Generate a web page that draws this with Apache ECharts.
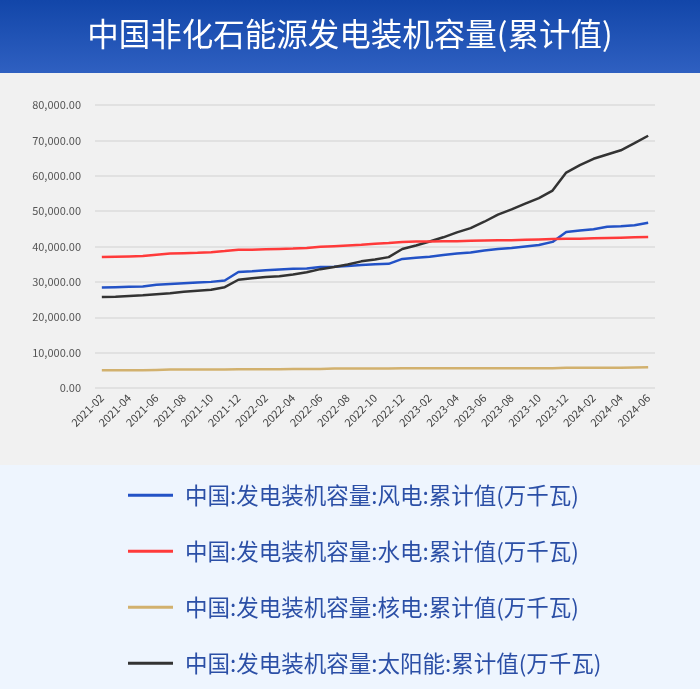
<!DOCTYPE html>
<html><head><meta charset="utf-8">
<script src="https://cdn.jsdelivr.net/npm/echarts@6/dist/echarts.min.js"></script>
<style>html,body{margin:0;padding:0;}#c{width:700px;height:689px;}</style>
</head><body><div id="c"></div>
<script>
const categories = ['2021-02','2021-03','2021-04','2021-05','2021-06','2021-07','2021-08','2021-09','2021-10','2021-11','2021-12',
'2022-01','2022-02','2022-03','2022-04','2022-05','2022-06','2022-07','2022-08','2022-09','2022-10','2022-11','2022-12',
'2023-01','2023-02','2023-03','2023-04','2023-05','2023-06','2023-07','2023-08','2023-09','2023-10','2023-11','2023-12',
'2024-01','2024-02','2024-03','2024-04','2024-05','2024-06'];
const wind = [28400,28500,28600,28700,29200,29400,29600,29800,30000,30400,32800,
33000,33300,33500,33700,33800,34200,34300,34500,34800,35000,35100,36500,
36800,37100,37600,38000,38300,38900,39300,39600,40000,40400,41300,44100,
44500,44900,45600,45700,46000,46700];
const hydro = [37000,37100,37200,37300,37700,38000,38100,38200,38400,38700,39100,
39100,39200,39300,39400,39600,39900,40100,40300,40500,40800,41000,41300,
41400,41400,41500,41500,41600,41700,41800,41800,41900,42000,42100,42200,
42200,42300,42400,42500,42600,42700];
const nuclear = [4990,4990,5000,5000,5100,5200,5200,5200,5200,5200,5300,
5300,5300,5300,5400,5400,5400,5500,5500,5500,5500,5500,5550,
5550,5550,5600,5600,5600,5600,5600,5600,5600,5600,5600,5700,
5700,5700,5700,5700,5800,5900];
const solar = [25700,25800,26000,26200,26500,26800,27200,27500,27800,28500,30600,
31000,31400,31600,32100,32700,33600,34200,34900,35800,36300,37000,39300,
40300,41400,42600,44000,45200,47000,49000,50500,52100,53700,55800,60900,
63000,64800,66000,67200,69200,71300];
const seriesNames = ['中国:发电装机容量:风电:累计值(万千瓦)','中国:发电装机容量:水电:累计值(万千瓦)','中国:发电装机容量:核电:累计值(万千瓦)','中国:发电装机容量:太阳能:累计值(万千瓦)'];
const titleText = '中国非化石能源发电装机容量(累计值)';

const chart = echarts.init(document.getElementById('c'));
const FF = '"Noto Sans CJK SC","Noto Sans",sans-serif';
const colors = ['#2352c6','#ff3a3a','#d2b16e','#333333'];
const data = [wind, hydro, nuclear, solar];
chart.setOption({
  backgroundColor: '#f1f1f1',
  animation: false,
  graphic: [
    {type:'rect', left:0, top:0, shape:{width:700,height:73}, z:-10,
     style:{fill:new echarts.graphic.LinearGradient(0,0,0,1,[{offset:0,color:'#1246a9'},{offset:1,color:'#2f60c1'}])}},
    {type:'rect', left:0, top:465, shape:{width:700,height:224}, z:-10, style:{fill:'#eef5fe'}}
  ],
  title: {text: titleText, left:'center', top:13,
    textStyle:{color:'#fff', fontSize:31.5, fontWeight:'normal', fontFamily:FF}},
  legend: {orient:'vertical', left:123, top:479, itemGap:33.5, itemWidth:45, itemHeight:3, icon:'rect',
    textStyle:{color:'#2b4fa6', fontSize:22.5, fontFamily:FF, padding:[0,0,0,7]},
    data: seriesNames},
  grid: {left:95, right:45, top:105, bottom:301},
  xAxis: {type:'category', data:categories, boundaryGap:true,
    axisLine:{show:false}, axisTick:{show:false},
    axisLabel:{interval:1, rotate:45, fontSize:11, color:'#444', margin:8, fontFamily:FF}},
  yAxis: {type:'value', min:0, max:80000, interval:10000,
    axisLine:{show:false}, axisTick:{show:false},
    splitLine:{lineStyle:{color:'#e1e1e1', width:2}},
    axisLabel:{color:'#555', fontSize:11, margin:14, fontFamily:FF,
      formatter: v => v.toLocaleString('en-US',{minimumFractionDigits:2, maximumFractionDigits:2})}},
  series: seriesNames.map((n,i)=>({name:n, type:'line', data:data[i], symbol:'none', showSymbol:false,
    color:colors[i], lineStyle:{width:2.5, color:colors[i]}, z: i===1?3:2}))
});
</script></body></html>
